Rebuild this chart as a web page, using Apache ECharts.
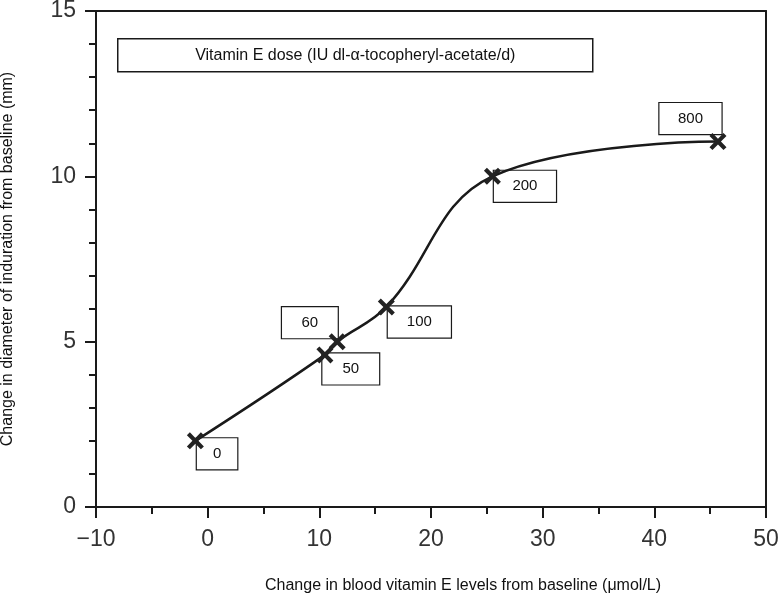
<!DOCTYPE html>
<html>
<head>
<meta charset="utf-8">
<script src="https://cdn.jsdelivr.net/npm/echarts@6/dist/echarts.min.js"></script>
<style>
html,body{margin:0;padding:0;background:#fff;}
#chart{width:784px;height:595px;}
</style>
</head>
<body>
<div id="chart"></div>
<script>
// ---- data ----
var bloodVitE = [-1.1, 10.5, 11.6, 16.0, 25.5, 45.7];
var induration = [2.0, 4.6, 5.0, 6.05, 10.0, 11.05];
var doses = ['0', '50', '60', '100', '200', '800'];
var xTitle = 'Change in blood vitamin E levels from baseline (\u03bcmol/L)';
var yTitle = 'Change in diameter of induration from baseline (mm)';
var legendTitle = 'Vitamin E dose (IU dl-\u03b1-tocopheryl-acetate/d)';

// ---- label placement (style) ----
var placement = [
  {pos: [10, 6], align: 'left', va: 'top', ph: 16},
  {pos: [6, 7], align: 'left', va: 'top', ph: 20},
  {pos: [9, 5], align: 'right', va: 'bottom', ph: 19.5},
  {pos: [10, 8], align: 'left', va: 'top', ph: 19},
  {pos: [10, 3], align: 'left', va: 'top', ph: 18.5},
  {pos: [12, 1], align: 'right', va: 'bottom', ph: 18.5}
];

var FONT = '"Liberation Sans", Arial, Helvetica, sans-serif';
var crossPath = 'path://M3.5,0 L10,6.5 L16.5,0 L20,3.5 L13.5,10 L20,16.5 L16.5,20 L10,13.5 L3.5,20 L0,16.5 L6.5,10 L0,3.5 Z';

var points = bloodVitE.map(function (x, i) { return [x, induration[i]]; });

var labelData = bloodVitE.map(function (x, i) {
  var p = placement[i];
  return {
    value: [x, induration[i]],
    name: doses[i],
    label: {
      show: true,
      position: p.pos,
      align: p.align,
      verticalAlign: p.va,
      padding: [7, p.ph, 7, p.ph],
      formatter: function (d) { return d.name; }
    }
  };
});

var chart = echarts.init(document.getElementById('chart'), null, {renderer: 'canvas'});
var axisLineStyle = {color: '#1a1a1a', width: 2};
chart.setOption({
  animation: false,
  backgroundColor: '#fff',
  grid: {left: 96, right: 18, top: 11, bottom: 88, show: false, containLabel: false, outerBoundsMode: 'none'},
  xAxis: [{
    type: 'value', min: -10, max: 50, interval: 10,
    axisLine: {show: true, onZero: false, lineStyle: axisLineStyle},
    axisTick: {show: true, inside: false, length: 11, lineStyle: {color: '#1a1a1a', width: 2}},
    minorTick: {show: true, splitNumber: 2, length: 7, lineStyle: {color: '#1a1a1a', width: 2}},
    splitLine: {show: false},
    axisLabel: {
      fontFamily: FONT, fontSize: 23, color: '#333', margin: 21,
      formatter: function (v) { return v < 0 ? '\u2212' + Math.abs(v) : String(v); }
    }
  }, {
    type: 'value', position: 'top', min: -10, max: 50,
    axisLine: {show: true, onZero: false, lineStyle: axisLineStyle},
    axisTick: {show: false}, axisLabel: {show: false}, splitLine: {show: false}
  }],
  yAxis: [{
    type: 'value', min: 0, max: 15, interval: 5,
    name: yTitle, nameLocation: 'middle', nameGap: 80,
    nameTextStyle: {fontFamily: FONT, fontSize: 16, color: '#111'},
    axisLine: {show: true, onZero: false, lineStyle: axisLineStyle},
    axisTick: {show: true, inside: false, length: 11, lineStyle: {color: '#1a1a1a', width: 2}},
    minorTick: {show: true, splitNumber: 5, length: 7, lineStyle: {color: '#1a1a1a', width: 2}},
    splitLine: {show: false},
    axisLabel: {fontFamily: FONT, fontSize: 23, color: '#333', margin: 20}
  }, {
    type: 'value', position: 'right', min: 0, max: 15,
    axisLine: {show: true, onZero: false, lineStyle: axisLineStyle},
    axisTick: {show: false}, axisLabel: {show: false}, splitLine: {show: false}
  }],
  graphic: [
    {
      type: 'rect', left: 117, top: 38,
      shape: {width: 475, height: 33},
      style: {fill: '#fff', stroke: '#1a1a1a', lineWidth: 1.5},
      textContent: {style: {text: legendTitle, font: '16px ' + FONT, fill: '#111'}},
      textConfig: {position: 'inside'}
    },
    {
      type: 'text', left: 265, top: 578,
      style: {text: xTitle, font: '16px ' + FONT, fill: '#111'}
    }
  ],
  series: [{
    type: 'scatter',
    data: labelData,
    symbol: 'rect',
    symbolSize: 17,
    itemStyle: {color: '#ffffff', opacity: 1},
    label: {
      show: true,
      fontFamily: FONT, fontSize: 15, color: '#111', lineHeight: 17,
      backgroundColor: '#fff', borderColor: '#1a1a1a', borderWidth: 1.2
    },
    emphasis: {disabled: true},
    silent: true,
    z: 2
  }, {
    type: 'line',
    data: points,
    smooth: 0.4,
    symbol: crossPath,
    symbolSize: 17,
    showAllSymbol: true,
    lineStyle: {color: '#1a1a1a', width: 2.5},
    itemStyle: {color: '#222'},
    z: 5
  }]
});
</script>
</body>
</html>
